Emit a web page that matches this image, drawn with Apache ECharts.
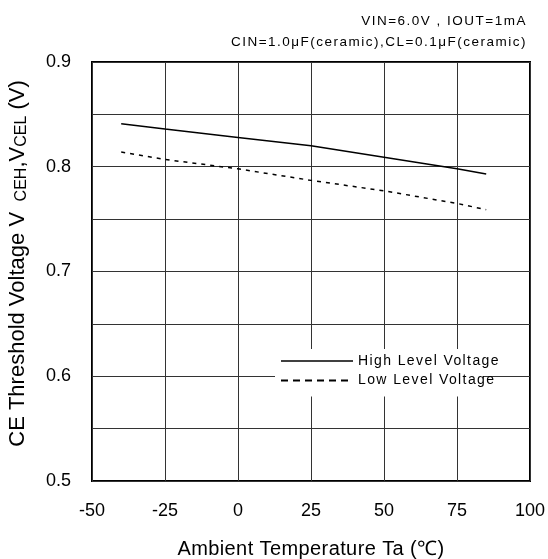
<!DOCTYPE html>
<html>
<head>
<meta charset="utf-8">
<script src="https://cdn.jsdelivr.net/npm/echarts@6/dist/echarts.min.js"></script>
<style>html,body{margin:0;padding:0;background:#fff}#c{width:548px;height:559px}</style>
</head>
<body>
<div id="c"></div>
<script>
var temps = [-40, -25, 0, 25, 50, 75, 85];
var highLevel = [0.841, 0.836, 0.828, 0.820, 0.809, 0.798, 0.793];
var lowLevel = [0.814, 0.807, 0.798, 0.787, 0.777, 0.765, 0.759];
var xTicks = [-50, -25, 0, 25, 50, 75, 100];
var yTicks = [0.5, 0.6, 0.7, 0.8, 0.9];
var seriesNames = ['High Level Voltage', 'Low Level Voltage'];
var conditionText = 'VIN=6.0V , IOUT=1mA\nCIN=1.0μF(ceramic),CL=0.1μF(ceramic)';

function pairs(xs, ys) { return xs.map(function (x, i) { return [x, ys[i]]; }); }

// letter spacing by font size (the reference text is drawn with wide tracking)
var spacingBySize = {'14px': '1.4px', '13.5px': '1.5px', '20px': '0.4px'};
(function () {
  var proto = CanvasRenderingContext2D.prototype;
  var orig = proto.fillText;
  proto.fillText = function (t, x, y, w) {
    var m = /(\d+(?:\.\d+)?px)/.exec(this.font || '');
    var sp = m && spacingBySize[m[1]];
    if ('letterSpacing' in this) this.letterSpacing = sp || '0px';
    return w === undefined ? orig.call(this, t, x, y) : orig.call(this, t, x, y, w);
  };
})();

var font = 'Liberation Sans, Arial, sans-serif';
var chart = echarts.init(document.getElementById('c'), null, {renderer: 'canvas'});
chart.setOption({
  animation: false,
  backgroundColor: '#fff',
  textStyle: {fontFamily: font},
  title: [{
    text: conditionText,
    left: 522, top: 6,
    textAlign: 'right',
    textStyle: {fontSize: 13.5, fontWeight: 'normal', color: '#000', fontFamily: font, lineHeight: 21}
  }],
  grid: {left: 92, right: 18, top: 62, bottom: 78, outerBoundsMode: 'none', containLabel: false,
    show: true, borderColor: '#000', borderWidth: 2, backgroundColor: 'transparent'},
  legend: {
    orient: 'vertical',
    left: 275, top: 349,
    itemWidth: 72, itemHeight: 14, itemGap: 5.5,
    backgroundColor: '#fff',
    padding: [5, 8, 9, 5],
    selectedMode: false,
    itemStyle: {opacity: 0, color: 'rgba(0,0,0,0)', borderWidth: 0},
    textStyle: {fontSize: 14, color: '#000', fontFamily: font, width: 142, align: 'right'},
    data: [
      {name: seriesNames[0], lineStyle: {type: 'solid', width: 1.5}},
      {name: seriesNames[1], lineStyle: {type: [7, 5], width: 2}}
    ]
  },
  xAxis: {
    type: 'value', min: -50, max: 100, interval: 25,
    name: 'Ambient Temperature Ta (℃)', nameLocation: 'middle', nameGap: 58,
    nameTextStyle: {fontSize: 20, color: '#000', fontFamily: font},
    axisLine: {show: false}, axisTick: {show: false},
    axisLabel: {fontSize: 18, color: '#000', margin: 21, fontFamily: font,
      formatter: function (v) { return xTicks.indexOf(v) >= 0 ? String(v) : ''; }},
    splitLine: {show: true, lineStyle: {color: '#333', width: 1}}
  },
  yAxis: {
    type: 'value', min: 0.5, max: 0.9, interval: 0.05,
    name: '{n|CE Threshold Voltage V }{s| CEH}{n|,V}{s|CEL}{n| (V)}',
    nameLocation: 'middle', nameGap: 62, nameRotate: 90,
    nameTextStyle: {fontSize: 22, color: '#000', fontFamily: font, padding: [0, 0, 0, 16],
      rich: {n: {fontSize: 22, color: '#000', fontFamily: font}, s: {fontSize: 16, color: '#000', fontFamily: font, padding: [8, 0, 0, 0]}}},
    axisLine: {show: false}, axisTick: {show: false},
    axisLabel: {fontSize: 18, color: '#000', margin: 21, fontFamily: font,
      formatter: function (v) {
        for (var i = 0; i < yTicks.length; i++) { if (Math.abs(yTicks[i] - v) < 1e-6) return yTicks[i].toFixed(1); }
        return '';
      }},
    splitLine: {show: true, lineStyle: {color: '#333', width: 1}}
  },
  series: [
    {name: seriesNames[0], type: 'line', data: pairs(temps, highLevel), symbol: 'none', smooth: false,
      lineStyle: {color: '#000', width: 1.5, type: 'solid'}, itemStyle: {color: '#000'}},
    {name: seriesNames[1], type: 'line', data: pairs(temps, lowLevel), symbol: 'none', smooth: false,
      lineStyle: {color: '#000', width: 1.5, type: [4, 5]}, itemStyle: {color: '#000'}}
  ]
});
</script>
</body>
</html>
